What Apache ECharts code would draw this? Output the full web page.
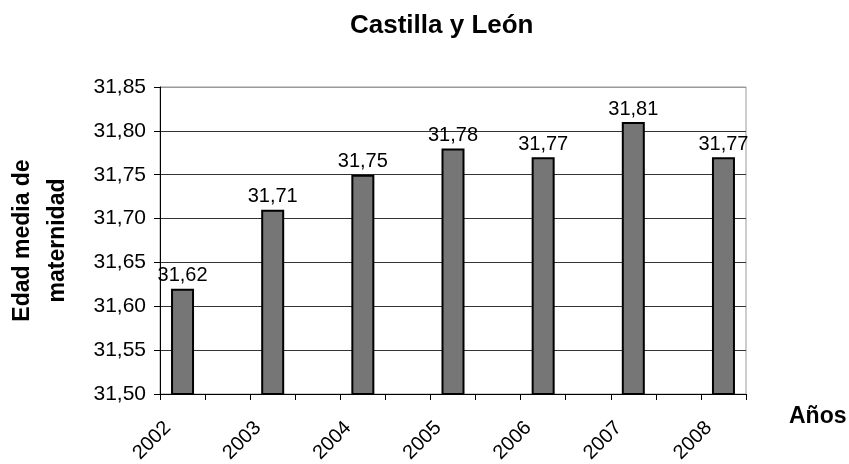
<!DOCTYPE html>
<html>
<head>
<meta charset="utf-8">
<script src="https://cdn.jsdelivr.net/npm/echarts@6/dist/echarts.min.js"></script>
<style>
  html, body { margin: 0; padding: 0; background: #ffffff; }
  #chart { width: 849px; height: 464px; }
</style>
</head>
<body>
<div id="chart"></div>
<script>
// Data
const years = ['2002', '2003', '2004', '2005', '2006', '2007', '2008'];
const edadMedia = [31.62, 31.71, 31.75, 31.78, 31.77, 31.81, 31.77];
const yTicks = { min: 31.50, max: 31.85, step: 0.05 };
const titleText = 'Castilla y León';
const yName = 'Edad media de\nmaternidad';
const xName = 'Años';

// The original chart places a blank slot between each year
const cats = [];
const vals = [];
years.forEach((y, i) => {
  cats.push(y); vals.push(edadMedia[i]);
  if (i < years.length - 1) { cats.push(''); vals.push('-'); }
});

const fmt = v => Number(v).toFixed(2).replace('.', ',');
const font = 'Liberation Sans, Arial, sans-serif';

const chart = echarts.init(document.getElementById('chart'), null, { renderer: 'canvas' });
chart.setOption({
  backgroundColor: '#ffffff',
  animation: false,
  title: {
    text: titleText,
    left: 345, top: 8,
    textStyle: { fontFamily: font, fontSize: 26, fontWeight: 'bold', color: '#000' }
  },
  grid: {
    left: 160, right: 103, top: 87, bottom: 70,
    containLabel: false,
    outerBoundsMode: 'none',
    show: true, borderColor: '#9a9a9a', borderWidth: 1, backgroundColor: 'transparent'
  },
  graphic: [{
    type: 'text', left: 789, top: 405,
    style: { text: xName, fontFamily: font, fontSize: 23, fontWeight: 'bold', fill: '#000' }
  }],
  xAxis: {
    type: 'category',
    data: cats,
    boundaryGap: true,
    axisLine: { lineStyle: { color: '#000', width: 1 } },
    axisTick: { show: true, interval: 0, alignWithLabel: false, length: 6, lineStyle: { color: '#000' } },
    axisLabel: {
      interval: 0, rotate: 45, margin: 16, padding: [0, 21, 0, 0],
      fontFamily: font, fontSize: 20, color: '#000'
    },
    splitLine: { show: false }
  },
  yAxis: {
    type: 'value',
    min: yTicks.min, max: yTicks.max, interval: yTicks.step,
    name: yName,
    nameLocation: 'middle',
    nameRotate: 90,
    nameGap: 85,
    nameTextStyle: { fontFamily: font, fontSize: 23, fontWeight: 'bold', color: '#000', lineHeight: 35, align: 'center' },
    axisLine: { show: true, lineStyle: { color: '#000', width: 1 } },
    axisTick: { show: true, length: 6, lineStyle: { color: '#000' } },
    axisLabel: {
      margin: 14, fontFamily: font, fontSize: 21, color: '#000',
      formatter: v => fmt(v)
    },
    splitLine: {
      show: true,
      lineStyle: { color: ['#333', '#333', '#333', '#333', '#333', '#333', '#333', '#9a9a9a'], width: 1 }
    }
  },
  series: [{
    type: 'bar',
    data: vals,
    barWidth: 23,
    itemStyle: { color: '#767676', borderColor: '#000', borderWidth: 2 },
    label: {
      show: true, position: 'top', distance: 3,
      fontFamily: font, fontSize: 20, color: '#000',
      formatter: p => fmt(p.value)
    }
  }]
});
</script>
</body>
</html>
